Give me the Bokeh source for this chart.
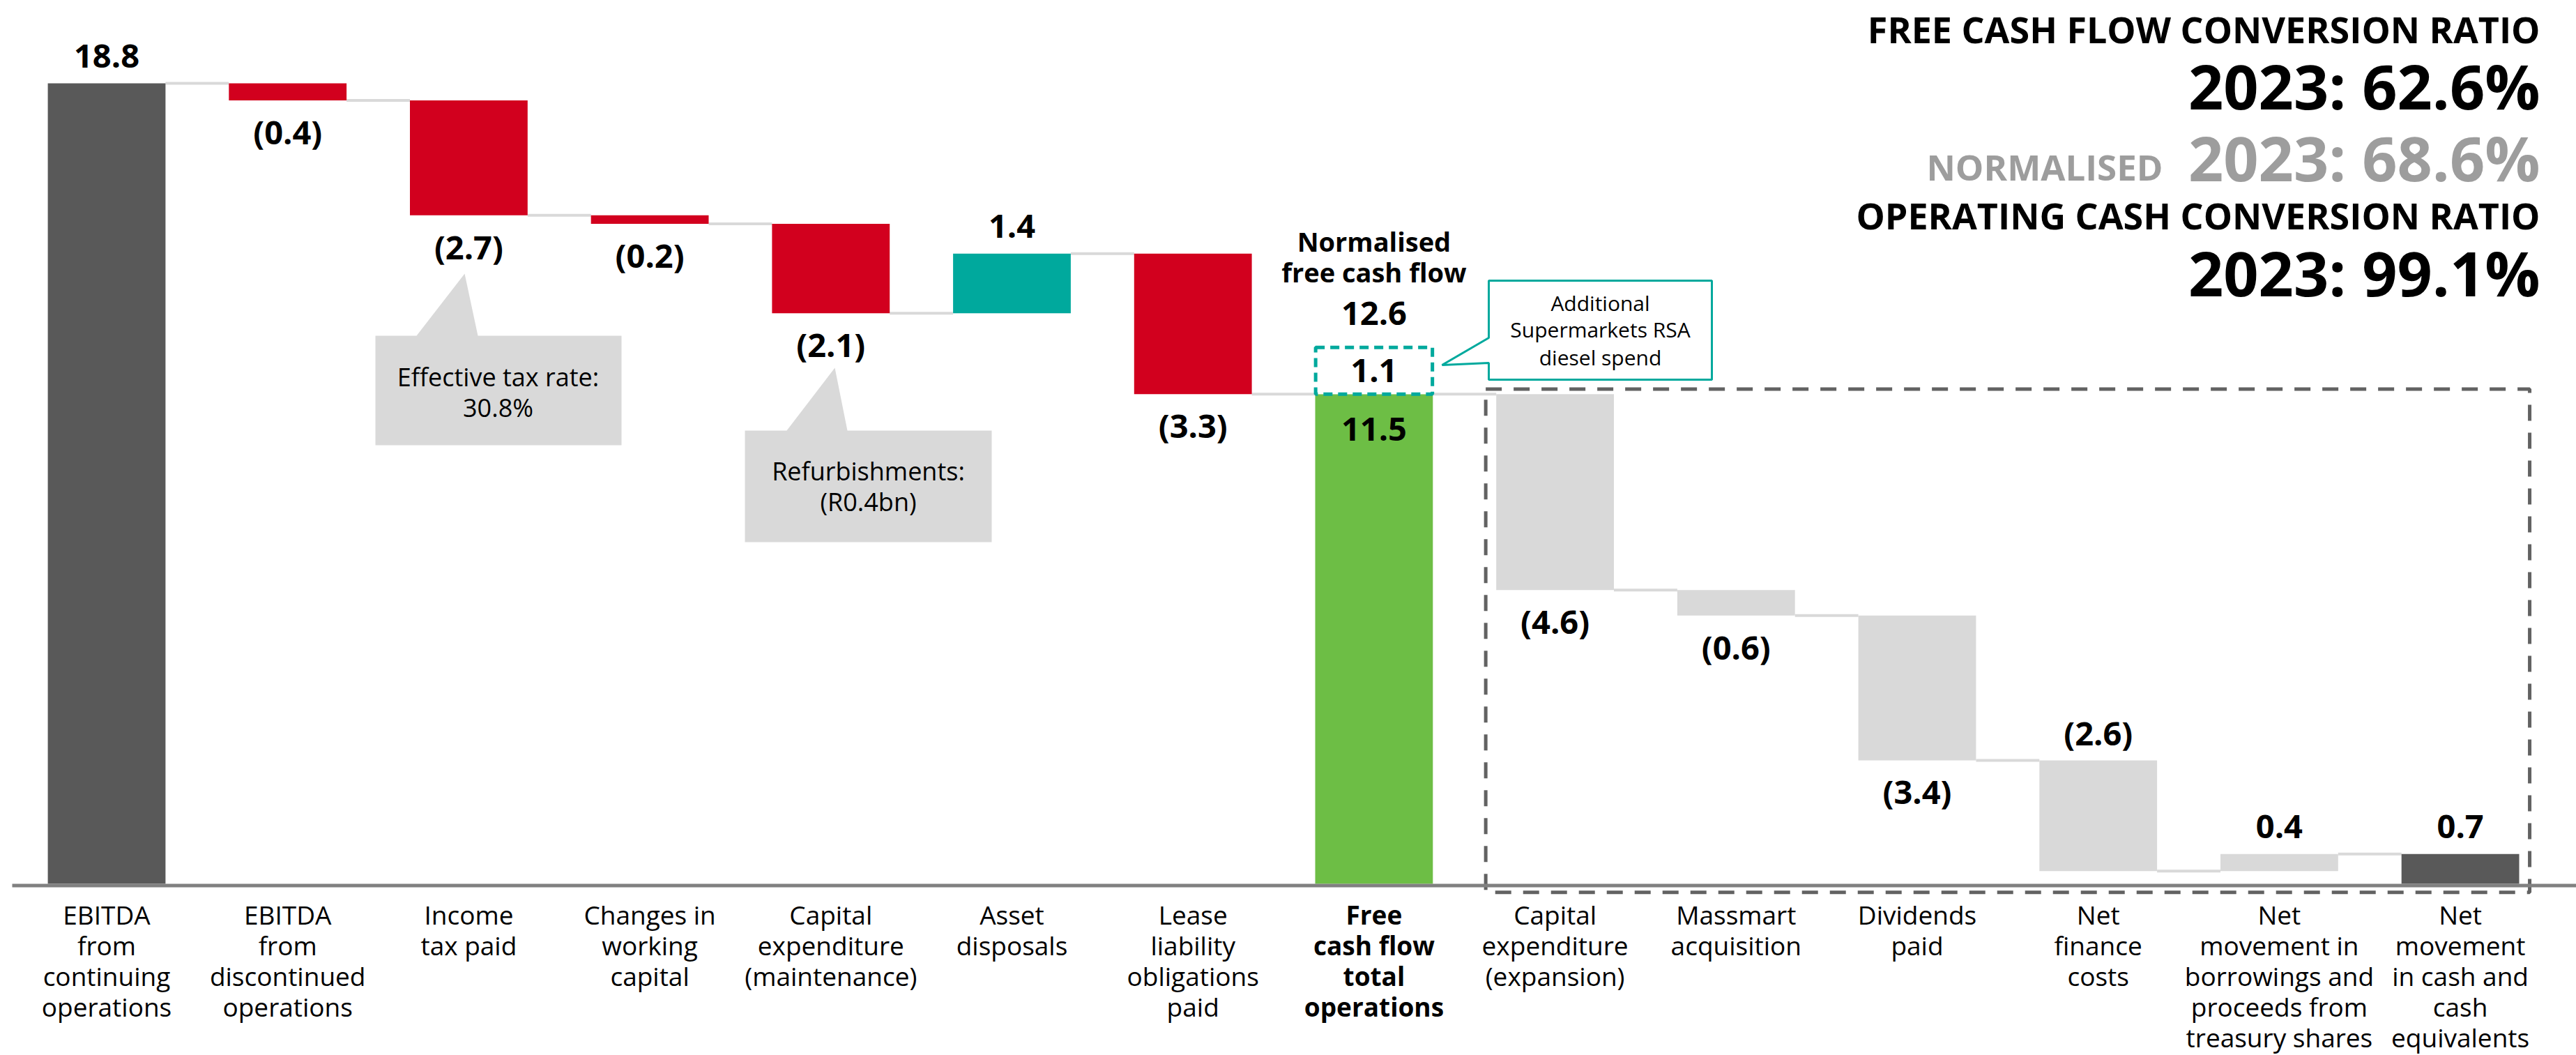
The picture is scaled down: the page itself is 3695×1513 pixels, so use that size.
from bokeh.plotting import figure
from bokeh.models import Range1d
from bokeh.core.properties import value
from bokeh.embed import file_html
from bokeh.resources import INLINE

# ---------------- data (R billion) ----------------
categories = [
    "EBITDA\nfrom\ncontinuing\noperations",
    "EBITDA\nfrom\ndiscontinued\noperations",
    "Income\ntax paid",
    "Changes in\nworking\ncapital",
    "Capital\nexpenditure\n(maintenance)",
    "Asset\ndisposals",
    "Lease\nliability\nobligations\npaid",
    "Free\ncash flow\ntotal\noperations",
    "Capital\nexpenditure\n(expansion)",
    "Massmart\nacquisition",
    "Dividends\npaid",
    "Net\nfinance\ncosts",
    "Net\nmovement in\nborrowings and\nproceeds from\ntreasury shares",
    "Net\nmovement\nin cash and\ncash\nequivalents",
]
amounts = [18.8, -0.4, -2.7, -0.2, -2.1, 1.4, -3.3, 11.5, -4.6, -0.6, -3.4, -2.6, 0.4, 0.7]
is_total = [True, False, False, False, False, False, False, True,
            False, False, False, False, False, True]
bar_colors = ["#595959", "#d2001e", "#d2001e", "#d2001e", "#d2001e", "#00a99d", "#d2001e",
              "#6dbe45", "#d9d9d9", "#d9d9d9", "#d9d9d9", "#d9d9d9", "#d9d9d9", "#595959"]
label_side = ["above", "below", "below", "below", "below", "above", "below",
              "inside", "below", "below", "below", "above", "above", "above"]
bold_category = [False] * 7 + [True] + [False] * 6

diesel_spend = 1.1          # added back for the normalised figure
normalised_fcf = 12.6

ratio_year = "2023"
fcf_conversion = 62.6
normalised_conversion = 68.6
operating_conversion = 99.1

tax_note = ["Effective tax rate:", "30.8%"]
refurb_note = ["Refurbishments:", "(R0.4bn)"]
diesel_note = ["Additional", "Supermarkets RSA", "diesel spend"]

# ---------------- page geometry ----------------
W, H = 3695, 1513
CAT0_PX = 152.5        # pixel centre of the first category
CAT_STEP_PX = 259.7    # pixels between category centres
ZERO_PX = 1267.0       # pixel row of the zero line
UNIT_PX = 61.06        # pixels per R1bn
BAR_W = 0.65


def sx(px):
    return (px - CAT0_PX) / CAT_STEP_PX


def sy(py):
    return (ZERO_PX - py) / UNIT_PX


def dv(pixels):
    return pixels / UNIT_PX


FONT = value("Open Sans")

p = figure(width=W, height=H, output_backend="svg", toolbar_location=None,
           x_range=Range1d(sx(0), sx(W)), y_range=Range1d(sy(H), sy(0)),
           x_axis_type=None, y_axis_type=None, min_border=0,
           outline_line_color=None, background_fill_color="white",
           border_fill_color="white")
p.grid.visible = False

# ---------------- waterfall geometry ----------------
xs = list(range(len(amounts)))
bottoms, tops, levels = [], [], []
running = 0.0
for a, tot in zip(amounts, is_total):
    if tot:
        b, t = 0.0, a
        running = a
    else:
        start = running
        running = round(running + a, 6)
        b, t = min(start, running), max(start, running)
    bottoms.append(b)
    tops.append(t)
    levels.append(running)

# dashed frame around the uses of free cash flow
p.quad(left=[8 - 0.383], right=[13 + 0.383], bottom=[-0.2], top=[levels[7] + 0.12],
       fill_alpha=0, line_color="#626262", line_width=5, line_dash="23 17")

# connectors between consecutive bars
p.segment(x0=[i + BAR_W / 2 for i in xs[:-1]], x1=[i + 1 - BAR_W / 2 for i in xs[:-1]],
          y0=levels[:-1], y1=levels[:-1], line_color="#d9d9d9", line_width=4)

p.vbar(x=xs, width=BAR_W, bottom=bottoms, top=tops, fill_color=bar_colors,
       line_color=None)

# normalisation add-back on top of free cash flow
p.vbar(x=[7], width=0.645, bottom=[levels[7]], top=[levels[7] + diesel_spend],
       fill_color="white", line_color="#00a99d", line_width=5, line_dash="13 8")

# zero line
p.segment(x0=[sx(17)], x1=[sx(W)], y0=[sy(1269.5)], y1=[sy(1269.5)],
          line_color="#808080", line_width=5)

# ---------------- value labels ----------------
lab_x, lab_y, lab_t = [], [], []
for i, a in enumerate(amounts):
    txt = f"({abs(a):.1f})" if a < 0 else f"{a:.1f}"
    if label_side[i] == "above":
        y = tops[i] + dv(39)
    elif label_side[i] == "below":
        y = bottoms[i] - dv(45)
    else:
        y = tops[i] - dv(50)
    lab_x.append(i)
    lab_y.append(y)
    lab_t.append(txt)
lab_x += [7, 7]
lab_y += [levels[7] + diesel_spend / 2, normalised_fcf + dv(49)]
lab_t += [f"{diesel_spend:.1f}", f"{normalised_fcf:.1f}"]
p.text(x=lab_x, y=lab_y, text=lab_t, text_font=FONT, text_font_size="47px",
       text_font_style="bold", text_color="black", text_align="center",
       text_baseline="middle")

p.text(x=[7, 7], y=[normalised_fcf + dv(152), normalised_fcf + dv(108)],
       text=["Normalised", "free cash flow"], text_font=FONT, text_font_size="38px",
       text_font_style="bold", text_color="black", text_align="center",
       text_baseline="middle")

# ---------------- category labels ----------------
for style in (False, True):
    cx, cy, ct = [], [], []
    for i, name in enumerate(categories):
        if bold_category[i] != style:
            continue
        for k, line in enumerate(name.split("\n")):
            cx.append(i)
            cy.append(sy(1311 + 44 * k))
            ct.append(line)
    p.text(x=cx, y=cy, text=ct, text_font=FONT, text_font_size="37px",
           text_font_style="bold" if style else "normal", text_color="black",
           text_align="center", text_baseline="middle")

# ---------------- callouts ----------------
def callout(left, right, top, bottom, pointer, fill, line=None):
    side, pts = pointer
    if side == "top":
        xs_px = [left] + [q[0] for q in pts] + [right, right, left]
        ys_px = [top] + [q[1] for q in pts] + [top, bottom, bottom]
    else:
        xs_px = [left, right, right, left] + [q[0] for q in pts]
        ys_px = [top, top, bottom, bottom] + [q[1] for q in pts]
    p.patch(x=[sx(v) for v in xs_px], y=[sy(v) for v in ys_px], fill_color=fill,
            line_color=line, line_width=3 if line else 0)


callout(538, 891, 481, 638, ("top", [(597, 481), (666, 392), (685, 481)]), "#d9d9d9")
callout(1068, 1422, 617, 777, ("top", [(1128, 617), (1197, 527), (1215, 617)]), "#d9d9d9")
callout(2135, 2455, 402, 544, ("left", [(2135, 520), (2068, 523), (2135, 484)]),
        "white", "#00a99d")

note_x, note_y, note_t = [], [], []
for lines, cxp, cys in ((tax_note, 714, [540, 584]), (refurb_note, 1245, [675, 719])):
    for t, yy in zip(lines, cys):
        note_x.append(sx(cxp))
        note_y.append(sy(yy))
        note_t.append(t)
p.text(x=note_x, y=note_y, text=note_t, text_font=FONT, text_font_size="36px",
       text_color="black", text_align="center", text_baseline="middle")

p.text(x=[sx(2295)] * 3, y=[sy(v) for v in (434, 472, 512)], text=diesel_note,
       text_font=FONT, text_font_size="30px", text_color="black",
       text_align="center", text_baseline="middle")

# ---------------- conversion ratios ----------------
RIGHT = sx(3643)
heads = [("FREE CASH FLOW CONVERSION RATIO", 41), ("OPERATING CASH CONVERSION RATIO", 308)]
p.text(x=[RIGHT] * 2, y=[sy(c) for _, c in heads], text=[t for t, _ in heads],
       text_font=FONT, text_font_size="52px", text_font_style="bold",
       text_color="black", text_align="right", text_baseline="middle")
p.text(x=[RIGHT] * 2, y=[sy(122), sy(390)],
       text=[f"{ratio_year}: {fcf_conversion:.1f}%", f"{ratio_year}: {operating_conversion:.1f}%"],
       text_font=FONT, text_font_size="88px", text_font_style="bold",
       text_color="black", text_align="right", text_baseline="middle")
p.text(x=[RIGHT], y=[sy(225)], text=[f"{ratio_year}: {normalised_conversion:.1f}%"],
       text_font=FONT, text_font_size="88px", text_font_style="bold",
       text_color="#9d9d9d", text_align="right", text_baseline="middle")
p.text(x=[sx(3102)], y=[sy(238)], text=["NORMALISED"], text_font=FONT,
       text_font_size="51px", text_font_style="bold", text_color="#9d9d9d",
       text_align="right", text_baseline="middle")

open("out.html", "w").write(file_html(p, INLINE))
